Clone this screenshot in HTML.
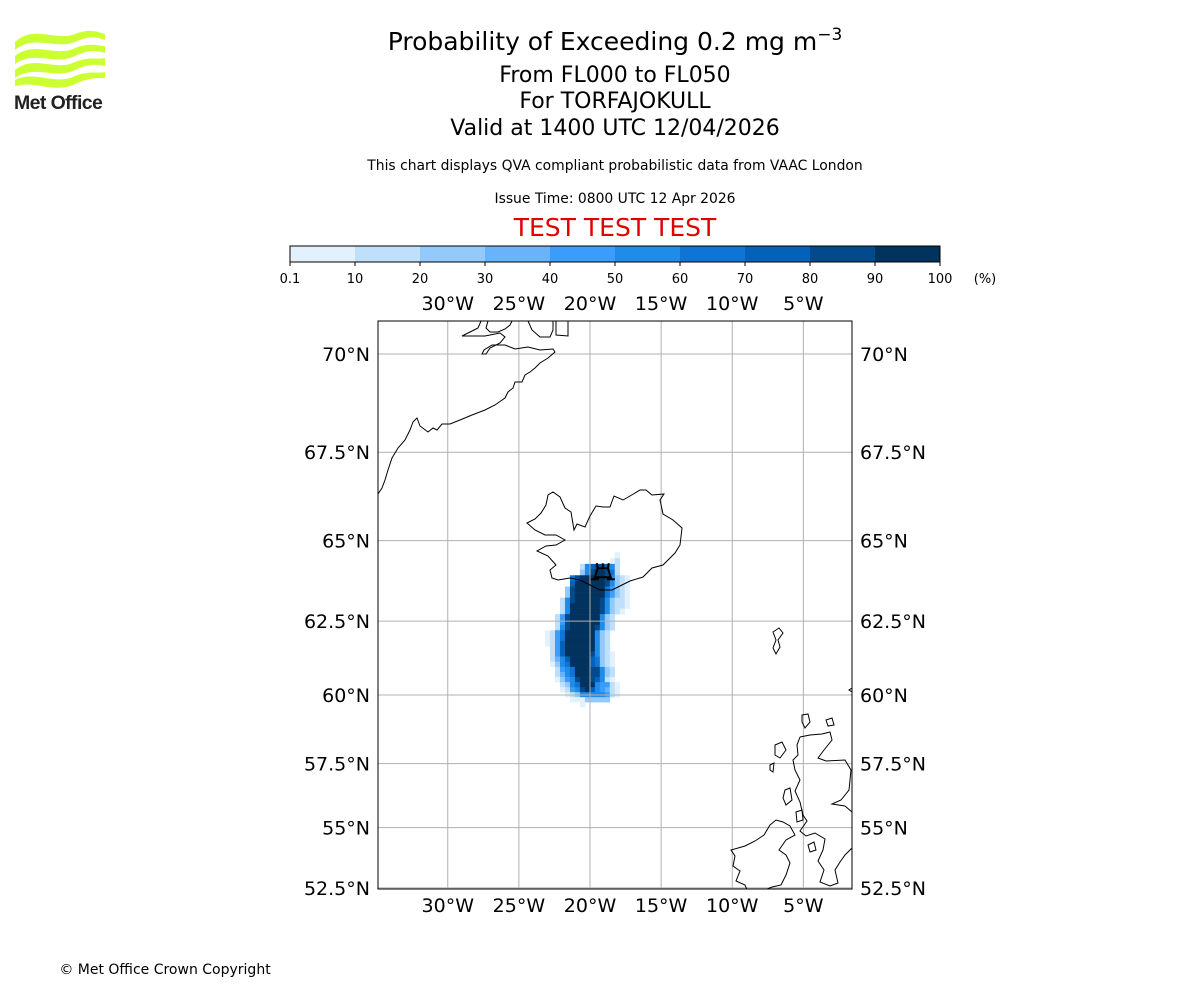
<!DOCTYPE html>
<html><head><meta charset="utf-8"><style>
html,body{margin:0;padding:0;background:#fff;}
body{width:1200px;height:1000px;position:relative;overflow:hidden;font-family:"DejaVu Sans","Liberation Sans",sans-serif;}
.t{position:absolute;white-space:nowrap;transform:translateX(-50%);color:#000;}
</style></head><body>
<svg width="110" height="90" style="position:absolute;left:10px;top:28px" viewBox="0 0 110 90">
 <g fill="#ccff33">
  <path d="M5,14 C25,-4 45,14 65,6 C80,0 88,4 95,6 L95,12 C85,8 78,8 65,14 C45,22 25,6 5,22 Z"/>
  <path d="M5,28 C25,12 45,30 65,20 C80,14 88,18 95,18 L95,25 C85,22 78,22 65,28 C45,38 25,22 5,36 Z"/>
  <path d="M5,42 C25,26 45,44 65,34 C80,28 88,32 95,30 L95,38 C85,36 78,36 65,42 C45,52 25,36 5,50 Z"/>
  <path d="M5,52 C25,42 45,58 65,48 C80,42 88,46 95,44 L95,50 C85,50 78,50 65,56 C45,66 25,52 5,58 Z"/>
 </g>
 <text x="4" y="81" font-family="Liberation Sans, sans-serif" font-weight="bold" font-size="19.5" fill="#222" letter-spacing="-0.6">Met Office</text>
</svg>
<div class="t" style="left:615px;top:27px;font-size:25px">Probability of Exceeding 0.2 mg m<sup style="font-size:17px;vertical-align:10px;line-height:0">−3</sup></div>
<div class="t" style="left:615px;top:63px;font-size:22px">From FL000 to FL050</div>
<div class="t" style="left:615px;top:89px;font-size:22px">For TORFAJOKULL</div>
<div class="t" style="left:615px;top:116px;font-size:22px">Valid at 1400 UTC 12/04/2026</div>
<div class="t" style="left:615px;top:158px;font-size:13.9px">This chart displays QVA compliant probabilistic data from VAAC London</div>
<div class="t" style="left:615px;top:191px;font-size:13.9px">Issue Time: 0800 UTC 12 Apr 2026</div>
<div class="t" style="left:615px;top:213px;font-size:25px;color:#e00000">TEST TEST TEST</div>
<div class="t" style="left:165px;top:962px;font-size:14px">© Met Office Crown Copyright</div>
<svg id="chart" width="1200" height="1000" style="position:absolute;left:0;top:0"></svg>
<script>
const cbEdges=[0.1,10,20,30,40,50,60,70,80,90,100];
const cbColors=["#e3f1fd","#bfdffb","#94c9fb","#69b3fb","#3a9cfb","#1f8ce9","#0e74d6","#0262b9","#024a8c","#02325e"];
const lonTicks=[-30,-25,-20,-15,-10,-5];
const latTicks=[52.5,55,57.5,60,62.5,65,67.5,70];
const gridLon0=-23.16, gridDLon=0.35, gridLat0=64.65, gridDLat=0.175;
const plumeRows=[
[0,0,0,0,0,0,0,0,0,0,0,0,0,0,5,0,0],
[0,0,0,0,0,0,0,0,0,0,0,0,0,5,15,0,0],
[0,0,0,0,0,0,0,15,55,75,85,85,75,55,15,0,0],
[0,0,0,0,0,0,0,25,55,85,95,95,85,65,15,0,0],
[0,0,0,0,0,65,85,95,95,95,95,95,85,55,25,15,5],
[0,0,0,0,0,75,95,95,95,95,95,95,85,55,25,15,5],
[0,0,0,0,25,85,95,95,95,95,95,95,65,45,25,15,5],
[0,0,0,0,25,85,95,95,95,95,95,95,65,45,25,15,5],
[0,0,0,15,55,85,95,95,95,95,95,85,55,25,15,15,5],
[0,0,0,15,55,95,95,95,95,95,95,85,55,25,15,15,5],
[0,0,0,15,55,95,95,95,95,95,95,85,55,25,15,5,0],
[0,0,15,45,85,95,95,95,95,95,95,55,25,15,0,0,0],
[0,0,15,45,85,95,95,95,95,95,95,55,25,15,0,0,0],
[0,0,15,55,85,95,95,95,95,95,85,55,25,15,0,0,0],
[5,15,45,65,95,95,95,95,95,95,55,25,15,0,0,0,0],
[5,15,45,65,95,95,95,95,95,95,55,25,15,0,0,0,0],
[5,15,45,75,95,95,95,95,95,95,55,25,15,0,0,0,0],
[0,15,45,75,95,95,95,95,95,95,55,25,15,0,0,0,0],
[0,15,45,75,95,95,95,95,95,85,55,25,15,5,0,0,0],
[0,15,35,55,75,95,95,95,95,75,65,25,15,5,0,0,0],
[0,5,25,55,65,95,95,95,95,75,65,25,15,5,0,0,0],
[0,0,15,45,55,65,95,95,95,85,85,55,25,15,0,0,0],
[0,0,15,35,55,65,95,95,95,85,85,55,25,15,0,0,0],
[0,0,5,25,45,55,85,95,95,85,75,55,15,5,0,0,0],
[0,0,0,15,25,55,65,95,95,95,55,45,45,15,5,0,0],
[0,0,0,5,15,45,55,85,95,75,55,45,35,15,5,0,0],
[0,0,0,0,5,15,25,55,55,55,55,55,45,15,5,0,0],
[0,0,0,0,0,5,5,5,25,25,25,25,25,0,0,0,0],
[0,0,0,0,0,0,0,5,0,0,0,0,0,0,0,0,0]
];
const NS="http://www.w3.org/2000/svg";
const svg=document.getElementById('chart');
function mk(tag,attrs,parent){const e=document.createElementNS(NS,tag);for(const k in attrs)e.setAttribute(k,attrs[k]);(parent||svg).appendChild(e);return e;}
const X0=378,X1=852,Y0=321,Y1=889;
const merc=l=>Math.log(Math.tan(Math.PI/4+l*Math.PI/360));
const K=815;
const xOf=lon=>590+(lon+20)*K*Math.PI/180;
const yOf=lat=>354-K*(merc(lat)-merc(70));
const cbX=v=>{let i=0;while(i<cbEdges.length-2&&v>=cbEdges[i+1])i++;return 290+65*i+65*(v-cbEdges[i])/(cbEdges[i+1]-cbEdges[i]);};
const colorOf=v=>{for(let i=cbEdges.length-2;i>=0;i--)if(v>=cbEdges[i])return cbColors[i];return null;};
for(let i=0;i<cbColors.length;i++){
 const r=mk('rect',{x:cbX(cbEdges[i]),y:246,width:cbX(cbEdges[i+1])-cbX(cbEdges[i]),height:16,fill:cbColors[i]});
 
 
}
const cbo=mk('rect',{x:290,y:246,width:650,height:16,fill:'none',stroke:'#000','stroke-width':1});


cbEdges.forEach(v=>{
 const x=cbX(v);
 mk('line',{x1:x,y1:262,x2:x,y2:266,stroke:'#000'});
 const t=mk('text',{x:x,y:283,'font-size':13,'text-anchor':'middle'});t.textContent=String(v);
 
 
});
const pu=mk('text',{x:985,y:283,'font-size':13,'text-anchor':'middle'});pu.textContent='(%)';


const cl=mk('clipPath',{id:'clip'});mk('rect',{x:X0,y:Y0,width:X1-X0,height:Y1-Y0},cl);
const g=mk('g',{'clip-path':'url(#clip)'});
plumeRows.forEach((row,i)=>{
 const latTop=gridLat0-gridDLat*i, latBot=latTop-gridDLat;
 row.forEach((v,j)=>{
  if(!v)return;
  const x=xOf(gridLon0+gridDLon*j), x2=xOf(gridLon0+gridDLon*(j+1));
  const c=mk('rect',{x:x,y:yOf(latTop),width:x2-x+0.3,height:yOf(latBot)-yOf(latTop)+0.3,fill:colorOf(v)},g);
  
  
 });
});
lonTicks.forEach(l=>{const x=xOf(l);mk('line',{x1:x,y1:Y0,x2:x,y2:Y1,stroke:'#b0b0b0','stroke-width':1},g);});
latTicks.forEach(l=>{const y=yOf(l);mk('line',{x1:X0,y1:y,x2:X1,y2:y,stroke:'#b0b0b0','stroke-width':1},g);});
const coasts=[
"M378,494 L382,488 385,480 388,470 392,458 398,448 405,440 410,430 413,422 417,418 420,426 428,432 433,428 437,430 442,424 450,424 460,420 472,415 485,410 495,405 505,398 508,392 513,388 515,382 522,382 525,375 530,372 535,368 540,363 548,358 555,352 553,349 540,350 528,347 515,349 505,345 492,345 484,350 482,354 486,354 490,348 500,343 505,337 500,333 485,336 472,336 462,336 470,332 478,328 481,321",
"M488,321 L486,328 490,332 498,332 505,329 510,325 512,321",
"M528,321 L532,330 540,337 550,337 553,330 553,321 M556,321 L556,335 568,336 568,321",
"M527,523 L535,519 541,513 546,505 548,495 553,492 560,497 565,508 571,512 574,530 577,524 585,527 590,516 596,506 603,507 610,507 614,496 623,500 630,496 640,490 646,490 652,495 664,494 660,500 663,514 673,520 682,528 680,545 675,553 663,565 652,568 643,577 630,581 622,585 612,590 600,590 590,585 580,580 570,578 558,580 552,578 550,570 556,565 548,556 537,551 546,546 556,545 565,540 556,535 545,535 535,530 527,523 Z",
"M800,737 L810,735 822,734 830,732 832,740 824,750 818,758 826,761 845,760 851,770 849,790 841,800 832,804 845,806 852,812 M852,848 L845,855 840,862 835,870 838,883 830,886 820,882 824,870 818,861 823,850 825,839 815,833 806,836 800,831 807,821 803,815 800,802 795,791 800,780 795,770 793,760 798,755 797,745 800,737",
"M770,825 L776,820 783,822 790,826 795,835 786,840 779,850 786,855 790,863 786,875 781,885 772,887 760,892 748,892 745,885 736,881 740,871 733,866 735,856 731,850 745,846 755,841 764,835 770,825 Z",
"M775,745 L782,742 786,750 780,758 775,755 Z M770,765 L774,763 773,772 770,770 Z M785,790 L790,788 792,800 786,805 783,798 Z M802,715 L808,714 810,722 805,728 802,722 Z M826,720 L832,718 834,725 828,726 Z M796,812 L802,810 803,820 797,822 Z M808,845 L814,842 816,850 810,852 Z",
"M773,632 L779,628 783,633 778,640 780,647 776,654 773,648 776,640 Z",
"M852,688 L849,690 852,692"
];
coasts.forEach(d=>{const p=mk('path',{d:d,fill:'none',stroke:'#000','stroke-width':1},g);
 
 });
const vx=xOf(-19.1), vy=yOf(63.92);
const vol=mk('path',{d:`M${vx-6},${vy-13} L${vx-5},${vy-8} L${vx-8},${vy+1} L${vx+8},${vy+1} L${vx+5},${vy-8} L${vx+6},${vy-13} M${vx-5},${vy-8} L${vx+5},${vy-8} M${vx},${vy-13} L${vx},${vy-8} M${vx-12},${vy+3} L${vx-4},${vy+3} M${vx+4},${vy+3} L${vx+12},${vy+3}`,fill:'none',stroke:'#000','stroke-width':2});


const fr=mk('rect',{x:X0,y:Y0,width:X1-X0,height:Y1-Y0,fill:'none',stroke:'#000','stroke-width':1});


lonTicks.forEach(l=>{
 [310,912].forEach(y=>{
  const t=mk('text',{x:xOf(l),y:y,'font-size':19,'text-anchor':'middle'});t.textContent=Math.abs(l)+'°W';
  
  
 });
});
latTicks.forEach(l=>{
 const y=yOf(l)+7;
 const t1=mk('text',{x:370,y:y,'font-size':19,'text-anchor':'end'});t1.textContent=l+'°N';
 
 
 const t2=mk('text',{x:860,y:y,'font-size':19,'text-anchor':'start'});t2.textContent=l+'°N';
 
 
});
</script>
</body></html>
